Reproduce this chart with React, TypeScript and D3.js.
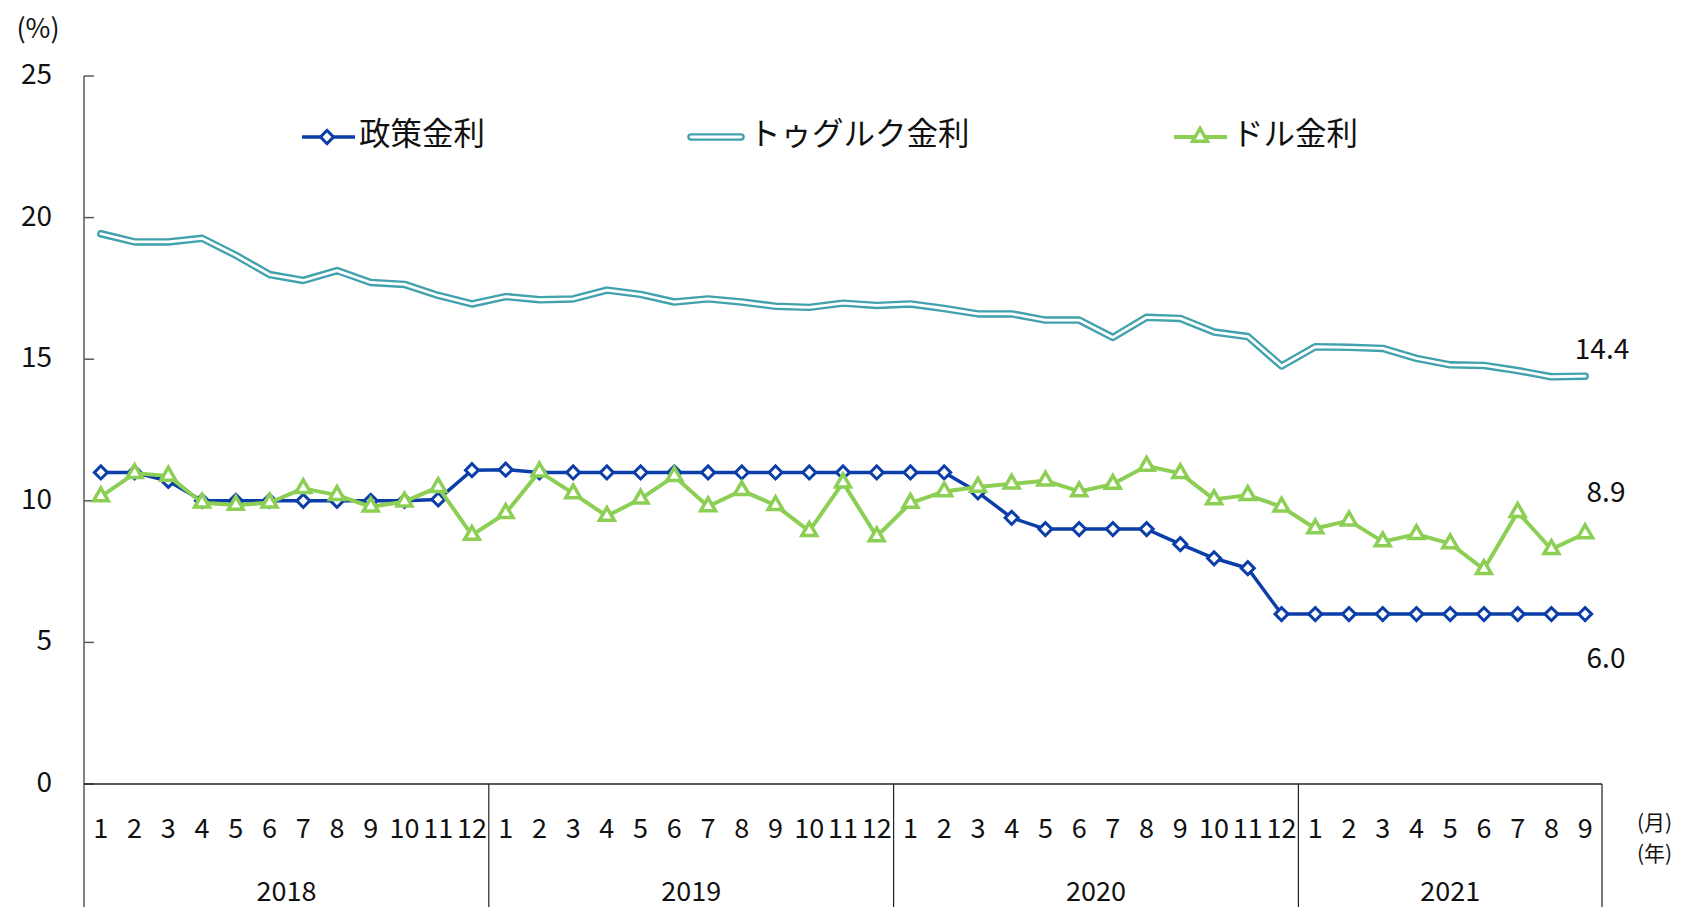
import React from 'react';
import * as d3 from 'd3';

// monthly rates, 2018/01 - 2021/09
const monthLabels = [
  '1', '2', '3', '4', '5', '6', '7', '8', '9', '10', '11', '12',
  '1', '2', '3', '4', '5', '6', '7', '8', '9', '10', '11', '12',
  '1', '2', '3', '4', '5', '6', '7', '8', '9', '10', '11', '12',
  '1', '2', '3', '4', '5', '6', '7', '8', '9',
];
const years = ['2018', '2019', '2020', '2021'];
const monthsPerYear = [12, 12, 12, 9];

const policyRate = [
  11, 11, 10.7, 10, 10, 10, 10, 10, 10, 10, 10.05, 11.08,
  11.1, 11, 11, 11, 11, 11, 11, 11, 11, 11, 11, 11,
  11, 11, 10.3, 9.4, 9, 9, 9, 9, 8.47, 7.97, 7.62, 6,
  6, 6, 6, 6, 6, 6, 6, 6, 6,
];
const togrogRate = [
  19.43, 19.14, 19.14, 19.27, 18.67, 17.99, 17.78, 18.13, 17.71, 17.64, 17.25, 16.95,
  17.21, 17.1, 17.13, 17.44, 17.29, 17.02, 17.13, 17.02, 16.87, 16.83, 16.98, 16.9,
  16.95, 16.79, 16.6, 16.6, 16.38, 16.38, 15.77, 16.48, 16.44, 15.96, 15.8, 14.76,
  15.44, 15.42, 15.38, 15.03, 14.8, 14.78, 14.6, 14.38, 14.4,
];
const dollarRate = [
  10.15, 10.97, 10.88, 9.93, 9.85, 9.93, 10.44, 10.2, 9.79, 9.97, 10.48, 8.79,
  9.56, 11.03, 10.26, 9.46, 10.07, 10.87, 9.8, 10.37, 9.84, 8.93, 10.64, 8.74,
  9.92, 10.33, 10.49, 10.6, 10.71, 10.33, 10.59, 11.23, 10.97, 10.05, 10.2, 9.79,
  9.02, 9.3, 8.56, 8.82, 8.49, 7.58, 9.6, 8.29, 8.85,
];
const yTicks = [0, 5, 10, 15, 20, 25];
const seriesNames = ['政策金利', 'トゥグルク金利', 'ドル金利'];
const endLabels = ['6.0', '14.4', '8.9'];

const W = 1686;
const H = 907;
const FONT = '"Noto Sans CJK JP", "Noto Sans", sans-serif';
const BLUE = '#0B3EA8';
const TEAL = '#41A1AD';
const GREEN = '#8CCF54';

const App = () => {
  const left = 84, right = 1602, top = 76, bottom = 784;
  const idx = monthLabels.map((_, i) => i);
  const x = d3.scaleBand<number>().domain(idx).range([left, right]);
  const cx = (i: number) => (x(i) as number) + x.bandwidth() / 2;
  const y = d3.scaleLinear().domain([0, 25]).range([bottom, top]);

  const line = d3.line<number>().x((_, i) => cx(i)).y(d => y(d));
  const diamond = d3.symbol(d3.symbolSquare, 85)();
  const triangle = d3.symbol(d3.symbolTriangle, 95)();

  // year boundaries in the category axis
  const bounds: number[] = [0];
  monthsPerYear.forEach(n => bounds.push(bounds[bounds.length - 1] + n));
  const bx = (k: number) => (k >= idx.length ? right : (x(k) as number));

  const last = idx.length - 1;

  return (
    <div style={{ position: 'fixed', left: 0, top: 0 }}>
      <svg width={W} height={H} style={{ display: 'block', background: '#fff' }} fontFamily={FONT}>
        {/* y axis */}
        <line x1={left} x2={left} y1={top} y2={H} stroke="#595959" strokeWidth={1.5} />
        {yTicks.map(t => (
          <g key={t}>
            <line x1={left} x2={left + 10} y1={y(t)} y2={y(t)} stroke="#595959" strokeWidth={1.5} />
            <text x={52} y={y(t) - 4} textAnchor="end" dominantBaseline="central" fontSize={28} fill="#111">{t}</text>
          </g>
        ))}
        <text x={38} y={26} textAnchor="middle" dominantBaseline="central" fontSize={27} fill="#111">(%)</text>

        {/* x axis + category boxes */}
        <line x1={left} x2={right} y1={bottom} y2={bottom} stroke="#222" strokeWidth={1.5} />
        {bounds.slice(1).map((b, k) => (
          <line key={k} x1={bx(b)} x2={bx(b)} y1={bottom} y2={H} stroke="#222" strokeWidth={1.2} />
        ))}
        {monthLabels.map((m, i) => (
          <text key={i} x={cx(i)} y={826} textAnchor="middle" dominantBaseline="central" fontSize={27} fill="#111">{m}</text>
        ))}
        {years.map((yr, k) => (
          <text key={yr} x={(bx(bounds[k]) + bx(bounds[k + 1])) / 2} y={889} textAnchor="middle" dominantBaseline="central" fontSize={27} fill="#111">{yr}</text>
        ))}
        <text x={1637} y={821} dominantBaseline="central" fontSize={21} fill="#111">(月)</text>
        <text x={1637} y={852} dominantBaseline="central" fontSize={21} fill="#111">(年)</text>

        {/* トゥグルク金利: double line */}
        <path d={line(togrogRate) || ''} fill="none" stroke={TEAL} strokeWidth={7.5} strokeLinejoin="round" strokeLinecap="round" />
        <path d={line(togrogRate) || ''} fill="none" stroke="#fff" strokeWidth={2.8} strokeLinejoin="round" strokeLinecap="round" />

        {/* 政策金利 */}
        <path d={line(policyRate) || ''} fill="none" stroke={BLUE} strokeWidth={3.5} strokeLinejoin="round" />
        {policyRate.map((v, i) => (
          <path key={i} d={diamond || ''} transform={`translate(${cx(i)},${y(v)}) rotate(45)`} fill="#fff" stroke={BLUE} strokeWidth={3} />
        ))}

        {/* ドル金利 */}
        <path d={line(dollarRate) || ''} fill="none" stroke={GREEN} strokeWidth={4} strokeLinejoin="round" />
        {dollarRate.map((v, i) => (
          <path key={i} d={triangle || ''} transform={`translate(${cx(i)},${y(v)})`} fill="#fff" stroke={GREEN} strokeWidth={3.5} strokeLinejoin="miter" />
        ))}

        {/* end labels */}
        <text x={1606} y={y(policyRate[last]) + 42} textAnchor="middle" dominantBaseline="central" fontSize={28} fill="#111">{endLabels[0]}</text>
        <text x={1602} y={y(togrogRate[last]) - 29} textAnchor="middle" dominantBaseline="central" fontSize={28} fill="#111">{endLabels[1]}</text>
        <text x={1606} y={y(dollarRate[last]) - 43} textAnchor="middle" dominantBaseline="central" fontSize={28} fill="#111">{endLabels[2]}</text>

        {/* legend */}
        <g>
          <line x1={302} x2={355} y1={137} y2={137} stroke={BLUE} strokeWidth={3.5} />
          <path d={diamond || ''} transform="translate(327,137) rotate(45)" fill="#fff" stroke={BLUE} strokeWidth={3} />
          <text x={359} y={131} dominantBaseline="central" fontSize={31.5} fill="#111">{seriesNames[0]}</text>

          <line x1={691} x2={741} y1={137} y2={137} stroke={TEAL} strokeWidth={7.5} strokeLinecap="round" />
          <line x1={691} x2={741} y1={137} y2={137} stroke="#fff" strokeWidth={2.8} strokeLinecap="round" />
          <text x={749} y={131} dominantBaseline="central" fontSize={31.5} fill="#111">{seriesNames[1]}</text>

          <line x1={1174} x2={1227} y1={137} y2={137} stroke={GREEN} strokeWidth={4} />
          <path d={triangle || ''} transform="translate(1200,137)" fill="#fff" stroke={GREEN} strokeWidth={3.5} />
          <text x={1232} y={131} dominantBaseline="central" fontSize={31.5} fill="#111">{seriesNames[2]}</text>
        </g>
      </svg>
    </div>
  );
};

export default App;
